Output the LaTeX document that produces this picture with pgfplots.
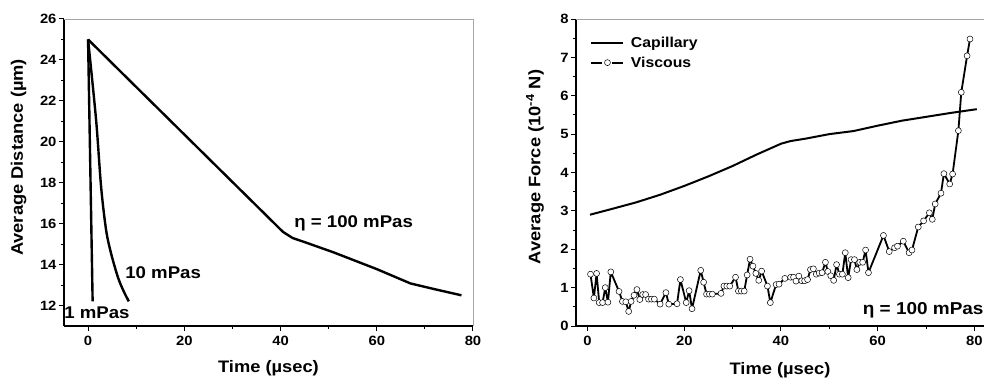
\documentclass[border=0pt]{standalone}
\usepackage{fontspec}
\setmainfont{Liberation Sans}[FakeStretch=1.1]
\usepackage{pgfplots}
\pgfplotsset{compat=1.18}
\newcommand{\fs}[1]{\fontsize{#1}{#1}\selectfont\bfseries}
\pgfplotsset{mystyle/.style={
  scale only axis, anchor=south west,
  axis lines*=left, tick align=outside,
  axis line style={black, line width=1.1bp},
  tick style={black, line width=1bp},
  major tick length=5bp, minor tick length=3bp,
  ticklabel style={font=\fs{13.5}},
  xticklabel style={yshift=-2bp},
  yticklabel style={xshift=1bp},
  /pgf/number format/assume math mode=true,
  label style={font=\fs{16.7}},
  minor x tick num=1, minor y tick num=1,
  xtick={0,20,40,60,80},
}}
\begin{document}
\begin{tikzpicture}
\useasboundingbox (0,0) rectangle (984bp,381bp);
% ---------------- left panel ----------------
\begin{axis}[mystyle,
  at={(64bp,55bp)}, width=409bp, height=307bp,
  xmin=-5, xmax=80, ymin=11, ymax=26,
  ytick={12,14,16,18,20,22,24,26},
  xlabel={Time (µsec)}, ylabel={Average Distance (µm)},
  xlabel style={at={(axis description cs:0.5,-0.137)}, anchor=center},
  ylabel style={at={(axis description cs:-0.111,0.549)}, anchor=center},
  after end axis/.code={\draw[gray!70, line width=0.6bp] (rel axis cs:0,1) -- (rel axis cs:1,1) -- (rel axis cs:1,0);},
]
\addplot[black, line width=2.4bp, line join=round] coordinates {(0,25) (0.95,12.2)};
\addplot[black, line width=2.4bp, line join=round, smooth] coordinates {(0,25) (1.67,21.07) (2.71,17.8) (3.75,15.69) (4.79,14.54) (6.18,13.4) (7.3,12.75) (8.47,12.2)};
\addplot[black, line width=2.4bp, line join=round] coordinates {(0,25) (40.5,15.6) (42.5,15.3) (45,15.1) (51,14.6) (60,13.78) (67,13.08) (72,12.8) (77.6,12.5)};
\node[font=\fs{17}] at (axis cs:55.2,16.03) {η = 100 mPas};
\node[font=\fs{17}] at (axis cs:15.6,13.59) {10 mPas};
\node[font=\fs{17}] at (axis cs:1.86,11.64) {1 mPas};
\end{axis}
% ---------------- right panel ----------------
\begin{axis}[mystyle,
  at={(576bp,55bp)}, width=408bp, height=307bp,
  xmin=-2.4, xmax=82, ymin=0, ymax=8,
  ytick={0,1,2,3,4,5,6,7,8},
  xlabel={Time (µsec)}, ylabel={Average Force (10\textsuperscript{-4} N)},
  xlabel style={at={(axis description cs:0.5,-0.145)}, anchor=center},
  ylabel style={at={(axis description cs:-0.1005,0.518)}, anchor=center},
  after end axis/.code={\draw[gray!70, line width=0.6bp] (rel axis cs:0,1) -- (rel axis cs:1,1);},
  legend style={draw=none, fill=none, at={(0.035,0.946)}, anchor=north west,
    font=\fs{14.4}, row sep=4.5bp, column sep=5bp, inner sep=0pt, nodes={inner sep=1.5bp}},
  legend cell align=left,
]
\addplot[black, line width=2bp, line join=round,
  legend image code/.code={\draw[black, line width=2bp] (0bp,0bp) -- (32bp,0bp);}]
  coordinates {(0.5,2.9) (5,3.05) (10,3.22) (15,3.42) (20,3.65) (25,3.9) (30,4.17) (35,4.47) (40,4.75) (42,4.82) (45,4.88) (50,5.0) (55,5.08) (60,5.22) (65,5.35) (70,5.45) (75,5.55) (80.5,5.65)};
\addlegendentry{Capillary}
\addplot[black, line width=1.8bp, line join=round, mark=*,
  mark size=3bp, mark options={fill=white, draw=black, line width=0.5bp},
  legend image code/.code={\draw[black, line width=1.8bp] (0bp,0bp) -- (11bp,0bp) (21bp,0bp) -- (32bp,0bp);
    \draw[black, fill=white, line width=0.5bp] (16bp,0bp) circle (3bp);}]
  coordinates {
(0.6,1.35) (1.3,0.73) (1.86,1.37) (2.4,0.61) (3.1,0.61) (3.65,1.0) (4.2,0.62) (4.8,1.41)
(6.5,0.9) (7.2,0.64) (7.9,0.63) (8.5,0.38) (9.0,0.64) (9.6,0.8) (10.2,0.95) (10.8,0.69)
(11.4,0.82) (12.0,0.82) (12.6,0.7) (13.2,0.7) (13.8,0.7) (15.0,0.57) (16.2,0.87) (16.8,0.57)
(18.5,0.58) (19.2,1.21) (20.4,0.61) (21.0,0.92) (21.6,0.45) (23.4,1.45) (24.0,1.14) (24.6,0.83)
(25.2,0.83) (25.8,0.83) (27.6,0.85) (28.2,1.04) (28.8,1.04) (29.4,1.04) (30.6,1.27) (31.2,0.91)
(31.8,0.91) (32.4,0.91) (33.0,1.33) (33.6,1.74) (34.2,1.56) (34.8,1.37) (35.4,1.19) (36.0,1.43)
(37.2,1.04) (37.8,0.61) (39.0,1.08) (39.6,1.09) (40.8,1.24) (42.0,1.27) (42.6,1.27) (43.1,1.17)
(43.7,1.3) (44.3,1.18) (44.9,1.18) (45.5,1.21) (46.1,1.47) (46.7,1.49) (47.3,1.35) (47.9,1.38)
(48.5,1.39) (49.2,1.66) (49.7,1.42) (50.3,1.31) (50.9,1.19) (51.5,1.6) (52.1,1.35) (52.7,1.35)
(53.3,1.91) (53.9,1.26) (54.5,1.73) (55.2,1.73) (55.7,1.47) (56.3,1.66) (56.9,1.66) (57.5,1.98)
(58.1,1.39) (61.2,2.36) (62.4,1.94) (63.5,2.04) (64.1,2.08) (65.3,2.21) (66.5,1.91) (67.1,1.98)
(68.4,2.58) (69.5,2.74) (70.7,2.95) (71.3,2.78) (71.9,3.18) (73.1,3.46) (73.7,3.97) (74.9,3.7)
(75.5,3.96) (76.7,5.09) (77.3,6.09) (78.5,7.04) (79.1,7.48)};
\addlegendentry{Viscous}
\node[font=\fs{17.3}, anchor=west, inner sep=0pt] at (axis cs:56.9,0.42) {η = 100 mPas};
\end{axis}
\end{tikzpicture}
\end{document}
